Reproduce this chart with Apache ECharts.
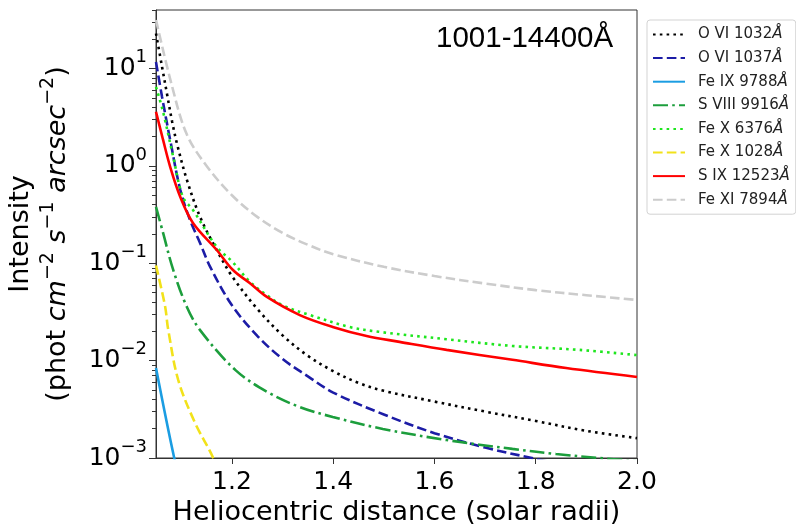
<!DOCTYPE html>
<html>
<head>
<meta charset="utf-8">
<script src="https://cdn.jsdelivr.net/npm/echarts@6/dist/echarts.min.js"></script>
<style>html,body{margin:0;padding:0;background:#fff;}#chart{width:796px;height:528px;}</style>
</head>
<body>
<div id="chart"></div>
<script>
// ---- data ----
const seriesNames = ['O VI 1032Å','O VI 1037Å','Fe IX 9788Å','S VIII 9916Å','Fe X 6376Å','Fe X 1028Å','S IX 12523Å','Fe XI 7894Å'];

const xOVI1032 = [1.05, 1.062, 1.072, 1.082, 1.092, 1.111, 1.137, 1.17, 1.2, 1.25, 1.3, 1.35, 1.4, 1.45, 1.5, 1.6, 1.7, 1.8, 1.9, 2.0];
const yOVI1032 = [23, 10.4, 5.4, 2.83, 1.65, 0.72, 0.30, 0.137, 0.074, 0.034, 0.0182, 0.0112, 0.0078, 0.0059, 0.0049, 0.0038, 0.0030, 0.0024, 0.0019, 0.0016];

const xOVI1037 = [1.05, 1.062, 1.078, 1.098, 1.117, 1.137, 1.157, 1.2, 1.25, 1.3, 1.35, 1.4, 1.5, 1.6, 1.7, 1.8, 1.85];
const yOVI1037 = [11.7, 5.1, 1.85, 0.57, 0.28, 0.162, 0.092, 0.037, 0.018, 0.0104, 0.0069, 0.0047, 0.0028, 0.0018, 0.00128, 0.00098, 0.00086];

const xFeIX9788 = [1.05, 1.086, 1.094];
const yFeIX9788 = [0.0084, 0.001, 0.00075];

const xSVIII9916 = [1.05, 1.064, 1.084, 1.111, 1.137, 1.207, 1.272, 1.334, 1.399, 1.498, 1.624, 1.754, 1.84, 1.925, 2.0];
const ySVIII9916 = [0.38, 0.205, 0.0855, 0.0356, 0.0206, 0.0080, 0.0047, 0.00334, 0.00264, 0.00199, 0.00153, 0.00124, 0.0011, 0.001, 0.00093];

const xFeX6376 = [1.05, 1.064, 1.084, 1.103, 1.123, 1.17, 1.2, 1.235, 1.269, 1.30, 1.354, 1.432, 1.49, 1.624, 1.754, 1.886, 2.0];
const yFeX6376 = [6.5, 3.6, 1.24, 0.48, 0.353, 0.147, 0.105, 0.065, 0.047, 0.037, 0.0294, 0.0222, 0.0198, 0.0166, 0.01415, 0.0129, 0.0114];

const xFeX1028 = [1.05, 1.068, 1.074, 1.094, 1.127, 1.163, 1.168];
const yFeX1028 = [0.095, 0.036, 0.021, 0.0063, 0.0023, 0.001, 0.00075];

const xSIX12523 = [1.05, 1.064, 1.078, 1.098, 1.123, 1.17, 1.202, 1.235, 1.269, 1.334, 1.399, 1.466, 1.531, 1.624, 1.754, 1.86, 2.0];
const ySIX12523 = [3.6, 1.85, 0.98, 0.48, 0.26, 0.137, 0.0853, 0.0628, 0.0451, 0.0294, 0.0222, 0.0179, 0.0156, 0.0129, 0.0102, 0.0084, 0.0068];

const xFeXI7894 = [1.05, 1.082, 1.111, 1.15, 1.2, 1.25, 1.3, 1.35, 1.4, 1.5, 1.6, 1.7, 1.8, 1.9, 2.0];
const yFeXI7894 = [31.6, 6.5, 2.1, 1.0, 0.50, 0.30, 0.205, 0.155, 0.124, 0.092, 0.074, 0.062, 0.053, 0.047, 0.042];

const xTickValues = [1.2, 1.4, 1.6, 1.8, 2.0];
const yTickValues = [0.001, 0.01, 0.1, 1, 10];
const yMinorTickValues = [];
[0.001, 0.01, 0.1, 1, 10].forEach(function (d) {
  for (let k = 2; k <= 9; k++) { const v = +(d * k).toPrecision(3); if (v <= 40) yMinorTickValues.push(v); }
});
const chartTitle = '1001-14400Å';
const xAxisTitle = 'Heliocentric distance (solar radii)';

// ---- styles ----
const colors = ['#000000', '#1c1ca6', '#1b9de2', '#1c9e3c', '#1ee61e', '#f2e21a', '#ff0000', '#cccccc'];
const dashes = [[2.6, 4.2], [9.6, 4.2], 'solid', [15, 4.2, 2.6, 4.2], [2.6, 4.2], [9.6, 4.2], 'solid', [9.6, 4.2]];
const xs = [xOVI1032, xOVI1037, xFeIX9788, xSVIII9916, xFeX6376, xFeX1028, xSIX12523, xFeXI7894];
const ys = [yOVI1032, yOVI1037, yFeIX9788, ySVIII9916, yFeX6376, yFeX1028, ySIX12523, yFeXI7894];

const series = seriesNames.map(function (name, i) {
  return {
    name: name,
    type: 'line',
    symbol: 'none',
    showSymbol: false,
    smooth: 0.35,
    clip: true,
    color: colors[i],
    lineStyle: { color: colors[i], width: 2.6, type: dashes[i], cap: 'butt' },
    data: xs[i].map(function (x, j) { return [x, ys[i][j]]; })
  };
});

const FONT = 'DejaVu Sans';
function yLabel(v) {
  const e = Math.round(Math.log10(v));
  const s = String(e).replace('-', '−');
  return '{b|10}{s|' + s + '}';
}

const chart = echarts.init(document.getElementById('chart'), null, { renderer: 'canvas' });
chart.setOption({
  animation: false,
  backgroundColor: '#fff',
  title: {
    text: chartTitle,
    left: 436, top: 24,
    padding: 0,
    textStyle: { fontFamily: 'Liberation Sans', fontSize: 29.5, fontWeight: 'normal', color: '#000' }
  },
  grid: { left: 156, right: 159, top: 10, bottom: 70, show: true, borderColor: '#333', borderWidth: 1,
    containLabel: false, outerBoundsMode: 'none' },
  legend: {
    orient: 'vertical',
    left: 647, top: 20,
    padding: [7, 6, 7, 5],
    itemWidth: 32, itemHeight: 14, itemGap: 8.6,
    borderColor: '#d3d3d3', borderWidth: 1, borderRadius: 3,
    backgroundColor: '#fff',
    itemStyle: { opacity: 0, borderWidth: 0 },
    data: seriesNames,
    formatter: function (name) { return '{n|' + name.replace('Å', '') + '}{a|Å}'; },
    textStyle: {
      fontFamily: FONT, fontSize: 15, color: '#222', padding: [0, 0, 0, 8], lineHeight: 15,
      rich: { n: { fontFamily: FONT, fontSize: 15, color: '#222', lineHeight: 15 }, a: { fontFamily: FONT, fontSize: 15, fontStyle: 'italic', color: '#222', lineHeight: 15 } }
    }
  },
  xAxis: {
    type: 'value', min: 1.05, max: 2.0,
    name: xAxisTitle, nameLocation: 'middle', nameGap: 41,
    nameTextStyle: { fontFamily: FONT, fontSize: 27, color: '#000' },
    axisLine: { show: true, lineStyle: { color: '#333', width: 1 } },
    axisTick: { show: true, inside: false, length: 6, customValues: xTickValues, lineStyle: { color: '#333' } },
    axisLabel: { show: true, margin: 12, customValues: xTickValues, fontFamily: FONT, fontSize: 25, color: '#000',
      formatter: function (v) { return v.toFixed(1); } },
    splitLine: { show: false }
  },
  yAxis: [{
    type: 'log', logBase: 10, min: 0.001, max: 40,
    name: 'Intensity\n(phot {i|cm}{s|−2} {i|s}{s|−1} {i|arcsec}{s|−2})',
    nameLocation: 'middle', nameRotate: 90, nameGap: 70,
    nameTextStyle: {
      fontFamily: FONT, fontSize: 27, color: '#000', lineHeight: 37,
      rich: {
        i: { fontFamily: FONT, fontSize: 27, fontStyle: 'italic', color: '#000', lineHeight: 37 },
        s: { fontFamily: FONT, fontSize: 19, color: '#000', lineHeight: 37, padding: [0, 0, 20, 0] }
      }
    },
    axisLine: { show: true, lineStyle: { color: '#333', width: 1 } },
    axisTick: { show: true, inside: false, length: 7, customValues: yTickValues, lineStyle: { color: '#333' } },
    axisLabel: {
      show: true, margin: 9, customValues: yTickValues, formatter: yLabel,
      rich: {
        b: { fontFamily: FONT, fontSize: 25, color: '#000' },
        s: { fontFamily: FONT, fontSize: 18, color: '#000', padding: [0, 0, 22, 0] }
      }
    },
    splitLine: { show: false },
    minorTick: { show: false }
  }, {
    type: 'log', logBase: 10, min: 0.001, max: 40, position: 'left',
    axisLine: { show: false },
    axisTick: { show: true, inside: false, length: 4, customValues: yMinorTickValues, lineStyle: { color: '#333' } },
    axisLabel: { show: false },
    splitLine: { show: false }
  }],
  series: series
});
</script>
</body>
</html>
